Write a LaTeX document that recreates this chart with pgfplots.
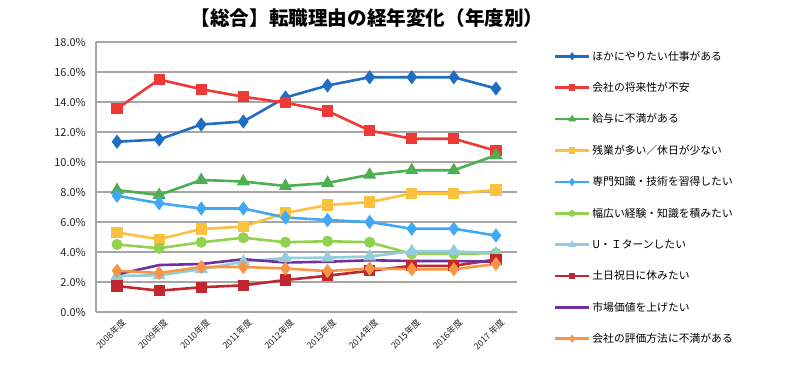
\documentclass[border=0pt]{standalone}
\usepackage{pgfplots}
\pgfplotsset{compat=1.18}
\usepackage{fontspec}
\setmainfont{Noto Sans CJK JP}
\definecolor{cBlue}{HTML}{1F6EC3}
\definecolor{cRed}{HTML}{EE3A36}
\definecolor{cGreen}{HTML}{4CAF50}
\definecolor{cYellow}{HTML}{FAC040}
\definecolor{cLBlue}{HTML}{3FA9F5}
\definecolor{cLime}{HTML}{92D050}
\definecolor{cPale}{HTML}{93CDDD}
\definecolor{cDRed}{HTML}{C0282D}
\definecolor{cPurple}{HTML}{7030A0}
\definecolor{cOrange}{HTML}{F79646}
\definecolor{cGrid}{HTML}{A6A6A6}
\begin{document}
\begin{tikzpicture}[x=1pt,y=1pt]
\path[use as bounding box] (0,0) rectangle (800,381);
\node[font=\fontsize{19.6}{22}\selectfont\bfseries] at (367,363) {【総合】転職理由の経年変化（年度別）};
\begin{axis}[
  at={(96pt,69pt)}, anchor=south west,
  scale only axis, width=421pt, height=270pt,
  xmin=-0.5, xmax=9.5, ymin=0, ymax=18,
  xtick={0,...,9},
  xticklabels={2008年度,2009年度,2010年度,2011年度,2012年度,2013年度,2014年度,2015年度,2016年度,2017 年度},
  ytick={0,2,...,18},
  yticklabel={\pgfmathprintnumber[fixed,fixed zerofill,precision=1]{\tick}\%},
  /pgf/number format/assume math mode=true,
  axis x line=bottom, axis y line=left,
  axis line style={-, draw=cGrid, line width=1.2pt},
  ymajorgrids, grid style={draw=cGrid, line width=1.2pt},
  major tick length=0pt,
  tick label style={font=\fontsize{11}{13}\selectfont, text=black!85},
  xticklabel style={xshift=4pt, yshift=-5pt, rotate=45, anchor=north east, font=\fontsize{8.8}{10}\selectfont, inner sep=0.5pt},
  yticklabel style={inner sep=2pt, xshift=-8pt},
  clip=false,
  every axis plot/.append style={line width=2.6pt},
  legend cell align=left,
  legend style={at={(1.087,0.975)}, anchor=north west, draw=none, fill=none,
    font=\fontsize{10.8}{12}\selectfont, row sep=16.8pt, inner sep=0pt},
  legend image code/.code={\draw[mark repeat=2,mark phase=2,mark size=2pt] plot coordinates {(0pt,0pt) (17pt,0pt) (34pt,0pt)};},
]
\addplot[cBlue, mark=diamond*, mark size=5pt] coordinates {(0,11.35)(1,11.5)(2,12.5)(3,12.7)(4,14.3)(5,15.1)(6,15.65)(7,15.65)(8,15.65)(9,14.9)};
\addlegendentry{ほかにやりたい仕事がある}
\addplot[cRed, mark=square*, mark size=4.3pt] coordinates {(0,13.55)(1,15.5)(2,14.85)(3,14.35)(4,13.95)(5,13.4)(6,12.1)(7,11.55)(8,11.55)(9,10.75)};
\addlegendentry{会社の将来性が不安}
\addplot[cGreen, mark=triangle*, mark size=5pt] coordinates {(0,8.13)(1,7.8)(2,8.8)(3,8.7)(4,8.4)(5,8.6)(6,9.15)(7,9.45)(8,9.45)(9,10.45)};
\addlegendentry{給与に不満がある}
\addplot[cYellow, mark=square*, mark size=4.3pt] coordinates {(0,5.3)(1,4.85)(2,5.53)(3,5.7)(4,6.6)(5,7.13)(6,7.33)(7,7.9)(8,7.9)(9,8.13)};
\addlegendentry{残業が多い／休日が少ない}
\addplot[cLBlue, mark=diamond*, mark size=5pt] coordinates {(0,7.75)(1,7.25)(2,6.9)(3,6.9)(4,6.3)(5,6.13)(6,6.0)(7,5.55)(8,5.55)(9,5.1)};
\addlegendentry{専門知識・技術を習得したい}
\addplot[cLime, mark=*, mark size=4.2pt] coordinates {(0,4.5)(1,4.25)(2,4.65)(3,4.95)(4,4.65)(5,4.72)(6,4.65)(7,3.88)(8,3.88)(9,3.92)};
\addlegendentry{幅広い経験・知識を積みたい}
\addplot[cPale, mark=triangle*, mark size=5pt] coordinates {(0,2.4)(1,2.45)(2,2.85)(3,3.35)(4,3.6)(5,3.62)(6,3.7)(7,4.05)(8,4.05)(9,3.9)};
\addlegendentry{U・Ｉターンしたい}
\addplot[cDRed, mark=square*, mark size=4.3pt] coordinates {(0,1.73)(1,1.42)(2,1.65)(3,1.78)(4,2.13)(5,2.42)(6,2.75)(7,3.08)(8,3.08)(9,3.5)};
\addlegendentry{土日祝日に休みたい}
\addplot[cPurple, no markers] coordinates {(0,2.5)(1,3.13)(2,3.2)(3,3.52)(4,3.3)(5,3.35)(6,3.45)(7,3.4)(8,3.4)(9,3.35)};
\addlegendentry{市場価値を上げたい}
\addplot[cOrange, mark=diamond*, mark size=5pt] coordinates {(0,2.75)(1,2.6)(2,3.0)(3,3.0)(4,2.9)(5,2.73)(6,2.9)(7,2.85)(8,2.85)(9,3.2)};
\addlegendentry{会社の評価方法に不満がある}
\end{axis}
\end{tikzpicture}
\end{document}
